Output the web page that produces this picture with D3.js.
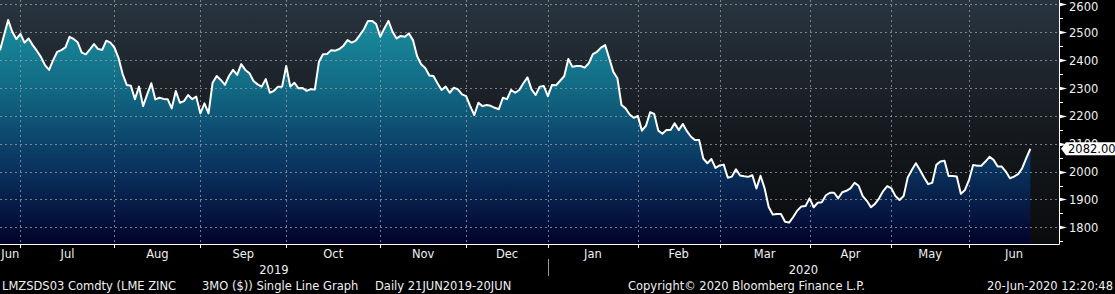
<!DOCTYPE html>
<html>
<head>
<meta charset="utf-8">
<script src="https://cdn.jsdelivr.net/npm/d3@7"></script>
<style>
  html, body { margin: 0; padding: 0; background: #000; }
  svg { display: block; }
  text { font-family: "DejaVu Sans", Verdana, sans-serif; font-size: 11.5px; fill: #f0f0f0; }
</style>
</head>
<body>
<div id="chart"></div>
<script>
// LME zinc 3M, daily closes (trading-day index)
const prices = [
  2436, 2490, 2544, 2502, 2476, 2494, 2463, 2478, 2454, 2434,
  2412, 2382, 2365, 2400, 2430, 2436, 2446, 2484, 2476, 2464,
  2427, 2421, 2439, 2458, 2440, 2437, 2470, 2463, 2445, 2407,
  2350, 2311, 2308, 2260, 2305, 2235, 2277, 2317, 2259, 2265,
  2261, 2260, 2227, 2289, 2247, 2253, 2275, 2260, 2269, 2209,
  2245, 2209, 2319, 2343, 2329, 2311, 2343, 2365, 2347, 2386,
  2365, 2353, 2325, 2313, 2305, 2332, 2283, 2290, 2305, 2305,
  2379, 2305, 2319, 2299, 2300, 2290, 2296, 2295, 2394, 2421,
  2422, 2436, 2434, 2440, 2452, 2472, 2463, 2470, 2490, 2511,
  2541, 2541, 2530, 2484, 2514, 2541, 2502, 2478, 2487, 2484,
  2496, 2472, 2415, 2385, 2372, 2345, 2343, 2317, 2293, 2305,
  2283, 2301, 2295, 2277, 2271, 2235, 2203, 2247, 2235, 2239,
  2236, 2229, 2224, 2265, 2260, 2293, 2283, 2293, 2317, 2338,
  2295, 2275, 2305, 2307, 2271, 2311, 2310, 2326, 2343, 2404,
  2376, 2379, 2379, 2373, 2389, 2422, 2430, 2445, 2454, 2407,
  2358, 2335, 2239, 2227, 2205, 2193, 2200, 2147, 2165, 2213,
  2207, 2147, 2136, 2149, 2149, 2173, 2149, 2171, 2145, 2125,
  2113, 2113, 2047, 2030, 2045, 2013, 2022, 2025, 1978, 1982,
  2008, 1986, 1983, 1981, 1987, 1939, 1985, 1940, 1873, 1846,
  1848, 1848, 1820, 1817, 1837, 1860, 1875, 1876, 1904, 1872,
  1888, 1890, 1915, 1924, 1924, 1904, 1926, 1931, 1940, 1960,
  1949, 1912, 1895, 1872, 1884, 1904, 1930, 1948, 1940, 1912,
  1898, 1912, 1979, 2006, 2030, 2006, 1979, 1955, 1960, 2024,
  2036, 2039, 1984, 1984, 1982, 1920, 1934, 1970, 2024, 2021,
  2021, 2036, 2053, 2042, 2018, 2018, 2000, 1976, 1982, 1991,
  2012, 2048, 2082
];

// month boundaries as trading-day index (first day of each month)
const monthStarts = [0, 5, 28, 49, 70, 93, 114, 134, 156, 176, 198, 218, 237, 259];
const monthNames = ["Jun", "Jul", "Aug", "Sep", "Oct", "Nov", "Dec", "Jan", "Feb", "Mar", "Apr", "May", "Jun"];
const years = [{label: "2019", from: 0, to: 134}, {label: "2020", from: 134, to: 259}];
const yTicks = [1800, 1900, 2000, 2100, 2200, 2300, 2400, 2500, 2600];
const yMinor = [1750, 1850, 1950, 2050, 2150, 2250, 2350, 2450, 2550];
const lastLabel = "2082.00";

const W = 1115, H = 294;
const plotW = 1059, plotH = 244;

const x = d3.scaleLinear().domain([0, 259]).range([0, plotW]);
const y = d3.scaleLinear().domain([1740, 2616]).range([plotH, 0]);

const svg = d3.select("#chart").append("svg")
  .attr("width", W)
  .attr("height", H);

svg.append("rect").attr("width", W).attr("height", H).attr("fill", "#000");

const defs = svg.append("defs");
const bg = defs.append("linearGradient").attr("id", "bg")
  .attr("x1", 0).attr("y1", 0).attr("x2", 0).attr("y2", 1);
bg.append("stop").attr("offset", "0%").attr("stop-color", "#28343f");
bg.append("stop").attr("offset", "55%").attr("stop-color", "#15191d");
bg.append("stop").attr("offset", "100%").attr("stop-color", "#0a0b0d");

const fillGrad = defs.append("linearGradient").attr("id", "areaFill")
  .attr("gradientUnits", "userSpaceOnUse")
  .attr("x1", 0).attr("y1", 0).attr("x2", 0).attr("y2", plotH);
fillGrad.append("stop").attr("offset", "0%").attr("stop-color", "#1c97a5");
fillGrad.append("stop").attr("offset", "35%").attr("stop-color", "#126b85");
fillGrad.append("stop").attr("offset", "68%").attr("stop-color", "#0a3460");
fillGrad.append("stop").attr("offset", "100%").attr("stop-color", "#02032b");

defs.append("clipPath").attr("id", "clip")
  .append("rect").attr("width", plotW).attr("height", plotH);

// plot background
svg.append("rect")
  .attr("width", plotW).attr("height", plotH)
  .attr("fill", "url(#bg)");

const plot = svg.append("g").attr("clip-path", "url(#clip)");

// area
const area = d3.area()
  .x((d, i) => x(i))
  .y0(plotH)
  .y1(d => y(d));
plot.append("path")
  .datum(prices)
  .attr("d", area)
  .attr("fill", "url(#areaFill)");

// grid
plot.selectAll(".hgrid")
  .data(yTicks)
  .enter().append("line")
  .attr("x1", 0).attr("x2", plotW)
  .attr("y1", d => Math.round(y(d)) + 0.5)
  .attr("y2", d => Math.round(y(d)) + 0.5)
  .attr("stroke", "#9aa0a8")
  .attr("stroke-opacity", 0.75)
  .attr("stroke-dasharray", "2,3");

plot.selectAll(".vgrid")
  .data(monthStarts.slice(1, -1))
  .enter().append("line")
  .attr("x1", d => Math.round(x(d)) + 0.5)
  .attr("x2", d => Math.round(x(d)) + 0.5)
  .attr("y1", 0).attr("y2", plotH)
  .attr("stroke", "#9aa0a8")
  .attr("stroke-opacity", 0.75)
  .attr("stroke-dasharray", "2,3");

// price line
const line = d3.line()
  .x((d, i) => x(i))
  .y(d => y(d));
plot.append("path")
  .datum(prices)
  .attr("d", line)
  .attr("fill", "none")
  .attr("stroke", "#ffffff")
  .attr("stroke-width", 2)
  .attr("stroke-linejoin", "round");

// x axis
svg.append("line")
  .attr("x1", 0).attr("x2", plotW + 0.5)
  .attr("y1", plotH + 0.5).attr("y2", plotH + 0.5)
  .attr("stroke", "#fff");

svg.selectAll(".xtick")
  .data(monthStarts.slice(1, -1))
  .enter().append("line")
  .attr("x1", d => Math.round(x(d)) + 0.5)
  .attr("x2", d => Math.round(x(d)) + 0.5)
  .attr("y1", plotH).attr("y2", plotH + 4)
  .attr("stroke", "#fff");

svg.selectAll(".month")
  .data(monthNames)
  .enter().append("text")
  .attr("x", (d, i) => (x(monthStarts[i]) + x(monthStarts[i + 1])) / 2)
  .attr("y", 258)
  .attr("text-anchor", "middle")
  .text(d => d);

svg.selectAll(".year")
  .data(years)
  .enter().append("text")
  .attr("x", d => (x(d.from) + x(d.to)) / 2)
  .attr("y", 274)
  .attr("text-anchor", "middle")
  .text(d => d.label);

svg.append("line")
  .attr("x1", Math.round(x(134)) + 0.5).attr("x2", Math.round(x(134)) + 0.5)
  .attr("y1", 259).attr("y2", 276)
  .attr("stroke", "#9a9a9a");

// y axis (right)
svg.append("line")
  .attr("x1", plotW + 0.5).attr("x2", plotW + 0.5)
  .attr("y1", 0).attr("y2", plotH + 0.5)
  .attr("stroke", "#fff");

svg.selectAll(".ymajor")
  .data(yTicks)
  .enter().append("path")
  .attr("d", d => {
    const yy = Math.round(y(d)) + 0.5;
    return `M${plotW},${yy - 2}L${plotW + 8},${yy}L${plotW},${yy + 2}Z`;
  })
  .attr("fill", "#fff");

svg.selectAll(".yminor")
  .data(yMinor)
  .enter().append("line")
  .attr("x1", plotW).attr("x2", plotW + 4)
  .attr("y1", d => Math.round(y(d)) + 0.5)
  .attr("y2", d => Math.round(y(d)) + 0.5)
  .attr("stroke", "#fff");

svg.selectAll(".ylabel")
  .data(yTicks)
  .enter().append("text")
  .attr("x", plotW + 10)
  .attr("y", d => Math.max(y(d) + 4.5, 11))
  .text(d => d);

// last price tag
const lastY = y(prices[prices.length - 1]);
svg.append("path")
  .attr("d", `M${plotW + 2},${lastY}L${plotW + 7},${lastY - 6.5}L${W},${lastY - 6.5}L${W},${lastY + 6.5}L${plotW + 7},${lastY + 6.5}Z`)
  .attr("fill", "#fff");
svg.append("text")
  .attr("x", plotW + 9)
  .attr("y", lastY + 4.5)
  .style("fill", "#000")
  .text(lastLabel);

// footer
svg.append("text").attr("x", 2).attr("y", 290).text("LMZSDS03 Comdty (LME ZINC");
svg.append("text").attr("x", 202).attr("y", 290).text("3MO ($)) Single Line Graph");
svg.append("text").attr("x", 375).attr("y", 290).text("Daily 21JUN2019-20JUN");
svg.append("text").attr("x", 628).attr("y", 290).text("Copyright\u00a9 2020 Bloomberg Finance L.P.");
svg.append("text").attr("x", 1113).attr("y", 290).attr("text-anchor", "end").text("20-Jun-2020 12:20:48");
</script>
</body>
</html>
